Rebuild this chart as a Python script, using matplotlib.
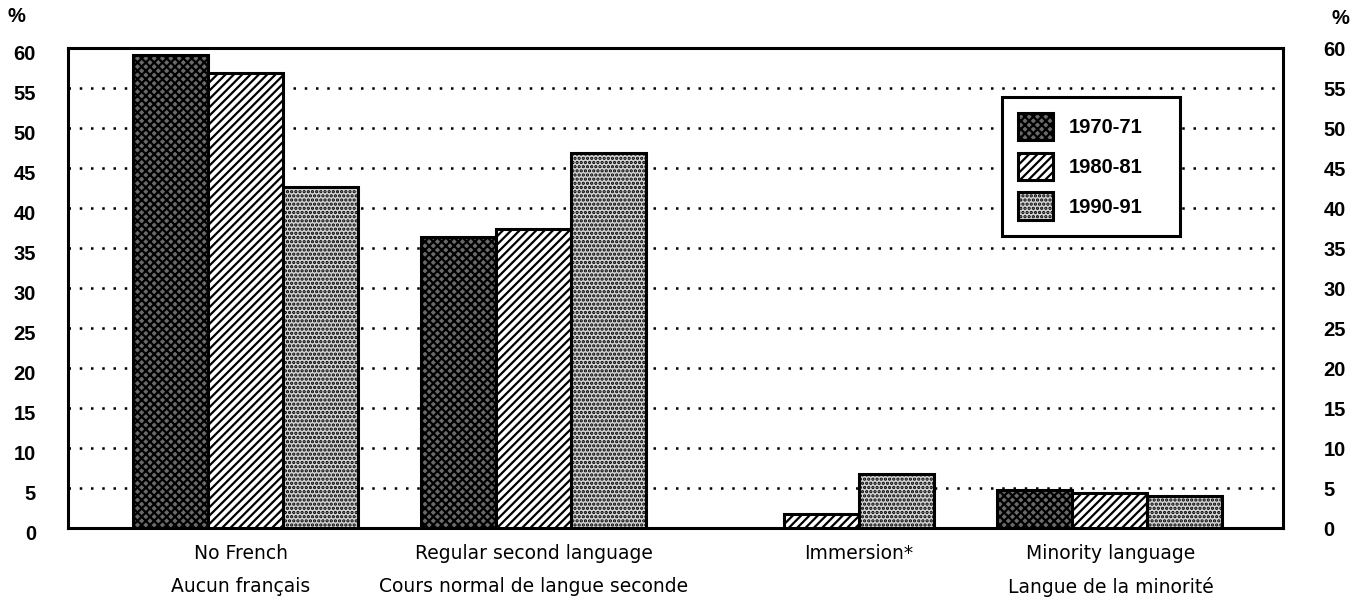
import numpy as np
import matplotlib.pyplot as plt
from matplotlib.transforms import ScaledTranslation

plt.rcParams['font.family'] = ['Liberation Sans', 'DejaVu Sans']
plt.rcParams['hatch.linewidth'] = 1.6

# Data
categories_en = ["No French", "Regular second language", "Immersion*", "Minority language"]
categories_fr = ["Aucun français", "Cours normal de langue seconde", "", "Langue de la minorité"]
years = ["1970-71", "1980-81", "1990-91"]
v1970 = [59.1, 36.4, np.nan, 4.75]
v1980 = [56.9, 37.4, 1.75, 4.4]
v1990 = [42.6, 46.9, 6.75, 4.0]
yticks = [0, 5, 10, 15, 20, 25, 30, 35, 40, 45, 50, 55, 60]

styles = [
    dict(facecolor="#6a6a6a", hatch="xxxx"),
    dict(facecolor="white", hatch="////"),
    dict(facecolor="#d4d4d4", hatch="...."),
]

fig = plt.figure(figsize=(13.62, 5.99), dpi=100)
ax = fig.add_axes([68 / 1362, 1 - 528 / 599, (1283 - 68) / 1362, (528 - 48) / 599])

x = np.arange(len(categories_en))
w = 0.26
for k, vals in enumerate([v1970, v1980, v1990]):
    ax.bar(x + (k - 1) * w, vals, width=w, edgecolor="black", linewidth=2.2,
           label=years[k], zorder=3, **styles[k])

ax.set_xlim(-0.616, 3.602)
ax.set_ylim(0, 60)

# dotted grid
for t in yticks[1:-1]:
    ax.axhline(t, color="black", linestyle=(0, (1, 3.5)), linewidth=1.8, zorder=1)

ax.set_yticks(yticks)
ax.tick_params(axis="y", length=0, labelsize=14.5, pad=23)
shift = ScaledTranslation(0, -5 / 100, fig.dpi_scale_trans)
for lab in ax.get_yticklabels():
    lab.set_fontweight("bold")
    lab.set_transform(lab.get_transform() + shift)
ax.set_xticks([])
for s in ax.spines.values():
    s.set_linewidth(2.2)

# right-side labels
ax2 = ax.twinx()
ax2.set_ylim(0, 60)
ax2.set_yticks(yticks)
ax2.tick_params(axis="y", length=0, labelsize=14.5, pad=29)
for lab in ax2.get_yticklabels():
    lab.set_fontweight("bold")

fig.text(7 / 1362, 1 - 17 / 599, "%", fontsize=14.5, fontweight="bold", va="center")
fig.text(1332 / 1362, 1 - 18 / 599, "%", fontsize=14.5, fontweight="bold", va="center")

# category labels
label_x = [x[0] - 0.015, x[1], x[2] + 0.13, x[3] + 0.005]
for xi, en, fr in zip(label_x, categories_en, categories_fr):
    ax.text(xi, -0.054, en, transform=ax.get_xaxis_transform(), ha="center", va="center",
            fontsize=13.5, family="DejaVu Sans")
    ax.text(xi, -0.122, fr, transform=ax.get_xaxis_transform(), ha="center", va="center",
            fontsize=13.5, family="DejaVu Sans")

x0 = (1002 - 68) / 1215
y1 = 1 - (97 - 48) / 480
lw = (1180 - 1002) / 1215
lh = (235 - 97) / 480
leg = ax.legend(loc="upper left", bbox_to_anchor=(x0, y1 - lh, lw, lh), mode="expand",
                fontsize=14.5, frameon=True, fancybox=False, edgecolor="black", framealpha=1,
                handlelength=1.75, handleheight=1.7, labelspacing=0.62,
                borderpad=0.8, handletextpad=0.75, borderaxespad=0)
leg.get_frame().set_linewidth(2.2)
leg.set_zorder(5)
for t in leg.get_texts():
    t.set_fontweight("bold")

fig.savefig("out.png", dpi=100)
